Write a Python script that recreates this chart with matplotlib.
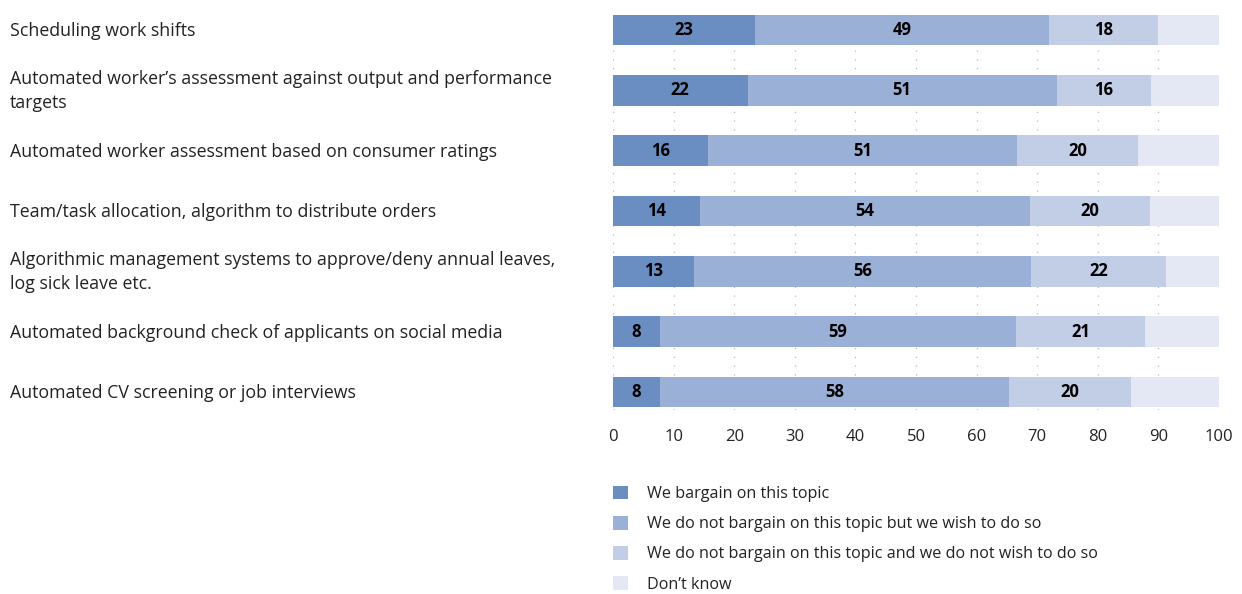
import matplotlib.pyplot as plt
from matplotlib.patches import Patch

plt.rcParams['font.family'] = ['Open Sans', 'DejaVu Sans']

topics = [
    'Scheduling work shifts',
    'Automated worker\u2019s assessment against output and performance\ntargets',
    'Automated worker assessment based on consumer ratings',
    'Team/task allocation, algorithm to distribute orders',
    'Algorithmic management systems to approve/deny annual leaves,\nlog sick leave etc.',
    'Automated background check of applicants on social media',
    'Automated CV screening or job interviews',
]
bargain = [23.4, 22.2, 15.7, 14.4, 13.4, 7.8, 7.7]
wish = [48.6, 51.0, 51.0, 54.4, 55.6, 58.7, 57.7]
no_wish = [17.9, 15.6, 19.9, 19.8, 22.3, 21.3, 20.0]
dont_know = [10.1, 11.2, 13.4, 11.4, 8.7, 12.2, 14.6]

series = [bargain, wish, no_wish, dont_know]
names = ['We bargain on this topic',
         'We do not bargain on this topic but we wish to do so',
         'We do not bargain on this topic and we do not wish to do so',
         'Don\u2019t know']
colors = ['#6a8ec1', '#9bb0d6', '#c2cde6', '#e4e8f4']

fig = plt.figure(figsize=(12.42, 5.94), dpi=100)
ax = fig.add_axes([613 / 1242, 1 - 410 / 594, 606 / 1242, 402 / 594])

ypos = list(range(len(topics)))
left = [0] * len(topics)
for i, (vals, col) in enumerate(zip(series, colors)):
    ax.barh(ypos, vals, left=left, height=0.51, color=col, zorder=2)
    if i < 3:
        for y, l, v in zip(ypos, left, vals):
            ax.text(l + v / 2, y, str(round(v)), ha='center', va='center',
                    fontsize=12, fontweight='bold', color='black', zorder=3)
    left = [a + b for a, b in zip(left, vals)]

ax.set_xlim(0, 100)
ax.set_ylim(6.3, -0.365)
ax.set_xticks(range(0, 101, 10))
ax.set_yticks([])
ax.tick_params(axis='x', length=0, labelsize=12, labelcolor='#222222', pad=14)
ax.grid(axis='x', linestyle=(0, (1, 6)), color='#b8b8b8', linewidth=0.9, zorder=0)
for s in ax.spines.values():
    s.set_visible(False)

for y, t in zip(ypos, topics):
    fy = 1 - (31 + y * 60.33) / 594
    fig.text(10 / 1242, fy, t, ha='left', va='center', fontsize=12.8,
             color='#222222', linespacing=1.42)

handles = [Patch(facecolor=c, edgecolor='none') for c in colors]
fig.legend(handles, names, loc='upper left', bbox_to_anchor=(598 / 1242, 1 - 471 / 594),
           frameon=False, fontsize=11.6, handlelength=0.95, handleheight=0.95,
           handletextpad=1.2, labelspacing=0.85, labelcolor='#222222')

fig.savefig('out.png', dpi=100)
